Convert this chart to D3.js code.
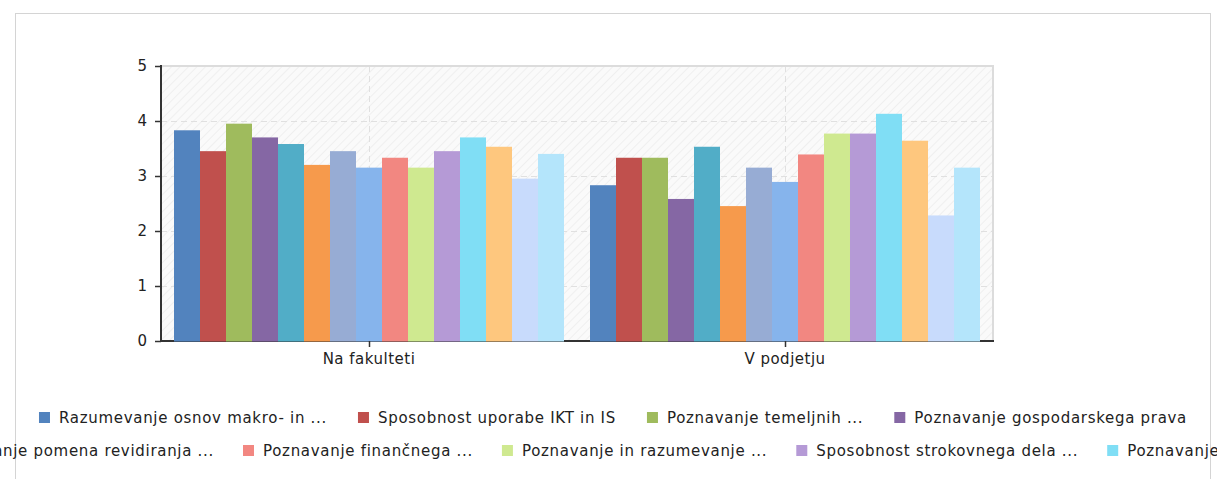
<!DOCTYPE html>
<html><head><meta charset="utf-8">
<script src="https://cdn.jsdelivr.net/npm/d3@7"></script>
<style>body{margin:0;background:#fff;overflow:hidden}</style>
</head><body>
<svg id="c" width="1217" height="479"></svg>
<script>
const categories = ["Na fakulteti", "V podjetju"];
const seriesNames = [
  "Razumevanje osnov makro- in ...",
  "Sposobnost uporabe IKT in IS",
  "Poznavanje temeljnih ...",
  "Poznavanje gospodarskega prava",
  "", "", "",
  "Razumevanje pomena revidiranja ...",
  "Poznavanje finančnega ...",
  "Poznavanje in razumevanje ...",
  "Sposobnost strokovnega dela ...",
  "Poznavanje ...",
  "", "", ""
];
const seriesColors = ["#5283be","#c0504d","#9fbb5d","#8567a4","#51adc7","#f69a4c","#97acd4","#86b4ec",
  "#f28781","#cfe990","#b59ad6","#80def5","#fec77e","#c8dbfc","#b4e5fb"];
const valuesNaFakulteti = [3.83,3.45,3.95,3.70,3.58,3.20,3.45,3.15,3.33,3.15,3.45,3.70,3.53,2.95,3.40];
const valuesVPodjetju   = [2.83,3.33,3.33,2.58,3.53,2.45,3.15,2.89,3.39,3.77,3.77,4.13,3.64,2.28,3.15];
const yTicks = [0,1,2,3,4,5];
const legendRow1 = [0,1,2,3];
const legendRow2 = [7,8,9,10,11];

const valuesByCategory = [valuesNaFakulteti, valuesVPodjetju];
const FONT = "'DejaVu Sans', Verdana, sans-serif";

const svg = d3.select("#c");
const L = 161, R = 993, T = 66, B = 340.7;

// outer border
svg.append("rect").attr("x",15.5).attr("y",13.5).attr("width",1195).attr("height",500)
  .attr("fill","#fff").attr("stroke","#d4d4d4").attr("stroke-width",1);

const defs = svg.append("defs");
const pat = defs.append("pattern").attr("id","hatch").attr("patternUnits","userSpaceOnUse")
  .attr("width",6).attr("height",6).attr("patternTransform","rotate(45)");
pat.append("rect").attr("width",6).attr("height",6).attr("fill","#fafafa");
pat.append("line").attr("x1",0).attr("y1",0).attr("x2",0).attr("y2",6).attr("stroke","#efefef").attr("stroke-width",2);

const x0 = d3.scaleBand().domain(categories).range([L, R]).padding(0);
const x1 = d3.scaleBand().domain(d3.range(seriesNames.length)).range([0, x0.bandwidth()]).paddingInner(0).paddingOuter(0.5);
const y = d3.scaleLinear().domain([0,5]).range([B, T]);

svg.append("rect").attr("x",L).attr("y",T).attr("width",R-L).attr("height",B-T).attr("fill","url(#hatch)");

// horizontal grid
svg.append("g").selectAll("line").data(yTicks.filter(d=>d>0 && d<5)).join("line")
  .attr("x1",L).attr("x2",R).attr("y1",d=>Math.round(y(d))+0.5).attr("y2",d=>Math.round(y(d))+0.5)
  .attr("stroke","#e0e0e0").attr("stroke-dasharray","6,4");
// vertical grid at category centers
svg.append("g").selectAll("line").data(categories).join("line")
  .attr("x1",d=>Math.round(x0(d)+x0.bandwidth()/2)+0.5).attr("x2",d=>Math.round(x0(d)+x0.bandwidth()/2)+0.5)
  .attr("y1",T).attr("y2",B)
  .attr("stroke","#e0e0e0").attr("stroke-dasharray","6,4");
// top & right border of plot
svg.append("line").attr("x1",L).attr("x2",R+1).attr("y1",T).attr("y2",T).attr("stroke","#dcdcdc").attr("stroke-width",2);
svg.append("line").attr("x1",R).attr("x2",R).attr("y1",T).attr("y2",B).attr("stroke","#dcdcdc").attr("stroke-width",2);

// x axis line
svg.append("line").attr("x1",L).attr("x2",R+1).attr("y1",341).attr("y2",341).attr("stroke","#333").attr("stroke-width",2);

// bars
categories.forEach((c, ci) => {
  svg.append("g").selectAll("rect").data(valuesByCategory[ci]).join("rect")
    .attr("x",(d,i)=>Math.round(x0(c)+x1(i)))
    .attr("width",(d,i)=>Math.round(x0(c)+x1(i)+x1.bandwidth())-Math.round(x0(c)+x1(i)))
    .attr("y",d=>y(d)).attr("height",d=>341.5-y(d))
    .attr("fill",(d,i)=>seriesColors[i]);
});

// y axis
svg.append("line").attr("x1",L).attr("x2",L).attr("y1",T-1).attr("y2",342).attr("stroke","#333").attr("stroke-width",2);
svg.append("g").selectAll("line").data(yTicks).join("line")
  .attr("x1",L-6).attr("x2",L).attr("y1",d=>Math.round(y(d))+0.5).attr("y2",d=>Math.round(y(d))+0.5)
  .attr("stroke","#333").attr("stroke-width",1.5);
svg.append("g").selectAll("text").data(yTicks).join("text")
  .attr("x",147).attr("y",d=>y(d)).attr("dy","0.36em").attr("text-anchor","end")
  .attr("font-family",FONT).attr("font-size",15).attr("fill","#222").text(d=>d);

// x ticks and labels
svg.append("g").selectAll("line").data(categories).join("line")
  .attr("x1",d=>Math.round(x0(d)+x0.bandwidth()/2)+0.5).attr("x2",d=>Math.round(x0(d)+x0.bandwidth()/2)+0.5)
  .attr("y1",341).attr("y2",347).attr("stroke","#333").attr("stroke-width",1.5);
svg.append("g").selectAll("text").data(categories).join("text")
  .attr("x",d=>x0(d)+x0.bandwidth()/2).attr("y",364).attr("text-anchor","middle")
  .attr("font-family",FONT).attr("font-size",15).attr("letter-spacing","0.5px").attr("fill","#222").text(d=>d);

// legend
function layoutRow(indices, baseline, gap) {
  const g = svg.append("g");
  const items = indices.map(i => {
    const ig = g.append("g");
    ig.append("rect").attr("x",0).attr("y",baseline-11).attr("width",11).attr("height",11).attr("fill",seriesColors[i]);
    const t = ig.append("text").attr("x",20).attr("y",baseline).attr("font-family",FONT).attr("font-size",15)
      .attr("letter-spacing","0.7px").attr("fill","#222").text(seriesNames[i]);
    return {ig, w: 20 + t.node().getBBox().width};
  });
  let xs = [], cur = 0;
  items.forEach(it => { xs.push(cur); cur += it.w + gap; });
  return {items, xs, total: cur - gap};
}
const r1 = layoutRow(legendRow1, 423, 31);
const off1 = 613 - r1.total/2;
r1.items.forEach((it,k)=>it.ig.attr("transform",`translate(${off1 + r1.xs[k]},0)`));
const r2 = layoutRow(legendRow2, 456, 29);
const off2 = 243 - r2.xs[1];
r2.items.forEach((it,k)=>it.ig.attr("transform",`translate(${off2 + r2.xs[k]},0)`));
</script>
</body></html>
